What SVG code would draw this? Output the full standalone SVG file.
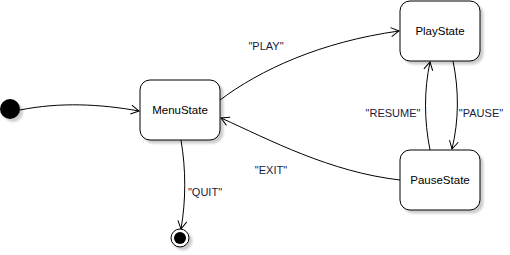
<svg xmlns="http://www.w3.org/2000/svg" width="510" height="255" viewBox="0 0 510 255">
  <style>
    .state { fill: #ffffff; stroke: #000000; stroke-width: 1; }
    .label { font-family: "Liberation Sans", Arial, sans-serif; font-size: 11.5px; fill: #000000; text-anchor: middle; }
    .edge-label { font-family: "Liberation Sans", Arial, sans-serif; font-size: 11px; fill: #1a1a40; text-anchor: middle; }
    .edge { fill: none; stroke: #000000; stroke-width: 1; marker-end: url(#open-arrow); }
  </style>
  <defs>
    <marker id="open-arrow" markerUnits="userSpaceOnUse" markerWidth="12" markerHeight="12" viewBox="0 0 12 12" refX="9" refY="6" orient="auto">
      <path d="M1,1.5 L9,6 L1,10.5" fill="none" stroke="#000000" stroke-width="1"/>
    </marker>
    <filter id="shadow" x="-20%" y="-20%" width="150%" height="150%">
      <feGaussianBlur in="SourceAlpha" stdDeviation="1"/>
      <feOffset dx="3" dy="3" result="off"/>
      <feComponentTransfer><feFuncA type="linear" slope="0.2"/></feComponentTransfer>
      <feMerge><feMergeNode/><feMergeNode in="SourceGraphic"/></feMerge>
    </filter>
  </defs>

  <rect width="510" height="255" fill="#ffffff"/>

  <g id="connectors">
    <path class="edge" d="M20,110 C60,102 100,104 139,111"/>
    <path class="edge" d="M220,100 C260,70 320,42 399,31"/>
    <path class="edge" d="M430,150 C424,120 424,90 430,62"/>
    <path class="edge" d="M453,61 C459,90 459,120 452,149"/>
    <path class="edge" d="M400,180 C330,172 270,140 221,118"/>
    <path class="edge" d="M181,140 C186,170 186,200 181,229"/>
    <text class="edge-label" x="266" y="50">"PLAY"</text>
    <text class="edge-label" x="393" y="117">"RESUME"</text>
    <text class="edge-label" x="481" y="117">"PAUSE"</text>
    <text class="edge-label" x="271" y="174">"EXIT"</text>
    <text class="edge-label" x="205" y="196">"QUIT"</text>
  </g>

  <g id="initial">
    <circle cx="10" cy="109" r="10" fill="#000000" filter="url(#shadow)"/>
  </g>

  <g id="menu-state">
    <rect class="state" x="140" y="80" width="80" height="60" rx="10" filter="url(#shadow)"/>
    <text class="label" x="180" y="114">MenuState</text>
  </g>

  <g id="play-state">
    <rect class="state" x="400" y="1" width="80" height="60" rx="10" filter="url(#shadow)"/>
    <text class="label" x="440" y="35">PlayState</text>
  </g>

  <g id="pause-state">
    <rect class="state" x="400" y="150" width="80" height="60" rx="10" filter="url(#shadow)"/>
    <text class="label" x="440" y="184">PauseState</text>
  </g>

  <g id="final">
    <circle cx="180" cy="238" r="9" fill="#ffffff" stroke="#000000" stroke-width="1" filter="url(#shadow)"/>
    <circle cx="180" cy="238" r="6" fill="#000000"/>
  </g>
</svg>
